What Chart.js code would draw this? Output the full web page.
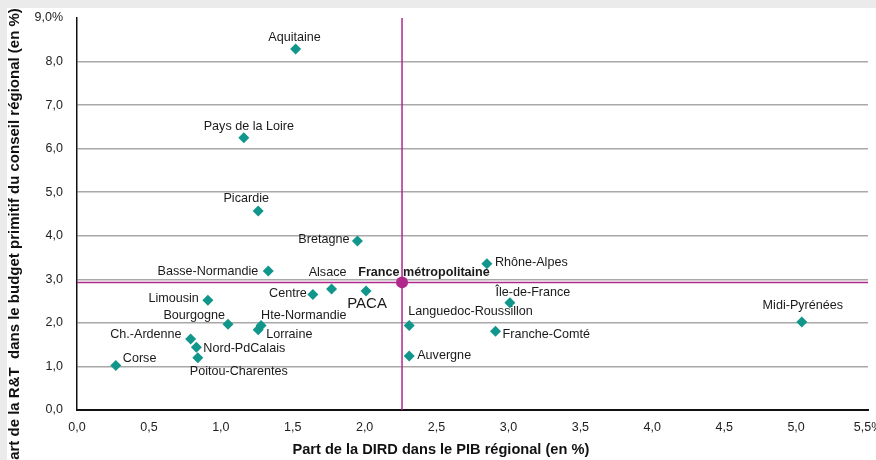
<!DOCTYPE html>
<html>
<head>
<meta charset="utf-8">
<script src="https://cdn.jsdelivr.net/npm/chart.js@4/dist/chart.umd.min.js"></script>
<style>
  html, body { margin: 0; padding: 0; background: #fff; }
  #wrap { position: relative; width: 876px; height: 460px; overflow: hidden; }
  .band-top { position: absolute; left: 0; top: 0; width: 876px; height: 8px; background: #ebebeb; }
  .band-left { position: absolute; left: 0; top: 0; width: 7px; height: 460px; background: #ebebeb; }
  canvas { position: absolute; left: 0; top: 0; }
</style>
</head>
<body>
<div id="wrap">
  <div class="band-top"></div>
  <div class="band-left"></div>
  <canvas id="chart" width="876" height="460"></canvas>
</div>
<script>
// data
const regions = ['Aquitaine', 'Pays de la Loire', 'Picardie', 'Bretagne', 'Basse-Normandie',
  'Rhône-Alpes', 'Alsace', 'Centre', 'PACA', 'Île-de-France', 'Limousin', 'Bourgogne',
  'Hte-Normandie', 'Lorraine', 'Languedoc-Roussillon', 'Franche-Comté', 'Midi-Pyrénées',
  'Ch.-Ardenne', 'Nord-PdCalais', 'Poitou-Charentes', 'Auvergne', 'Corse'];
const dirdPib = [1.52, 1.16, 1.26, 1.95, 1.33,
  2.85, 1.77, 1.64, 2.01, 3.01, 0.91, 1.05,
  1.28, 1.26, 2.31, 2.91, 5.04,
  0.79, 0.83, 0.84, 2.31, 0.27];
const rtBudget = [8.29, 6.25, 4.57, 3.88, 3.19,
  3.36, 2.78, 2.65, 2.73, 2.46, 2.52, 1.97,
  1.94, 1.84, 1.94, 1.81, 2.02,
  1.63, 1.44, 1.20, 1.24, 1.02];
const franceLabel = 'France métropolitaine';
const franceDird = 2.26;
const franceRt = 2.93;

const xTickLabels = ['0,0', '0,5', '1,0', '1,5', '2,0', '2,5', '3,0', '3,5', '4,0', '4,5', '5,0', '5,5%'];
const yTickLabels = ['0,0', '1,0', '2,0', '3,0', '4,0', '5,0', '6,0', '7,0', '8,0', '9,0%'];

// where each label sits next to its point: [textAlign, dx, dy]
const labelPlacement = {
  'Aquitaine': ['center', -1, -11],
  'Pays de la Loire': ['center', 5, -11],
  'Picardie': ['center', -12, -12],
  'Bretagne': ['right', -8, -1],
  'Basse-Normandie': ['right', -10, 0],
  'Rhône-Alpes': ['left', 8, -1],
  'Alsace': ['center', -4, -16],
  'Centre': ['right', -6, -1],
  'PACA': ['center', 1, 13],
  'Île-de-France': ['center', 23, -10],
  'Limousin': ['right', -9, -2],
  'Bourgogne': ['right', -3, -9],
  'Hte-Normandie': ['left', 0, -10],
  'Lorraine': ['left', 8, 5],
  'Languedoc-Roussillon': ['left', -1, -14],
  'Franche-Comté': ['left', 7, 3],
  'Midi-Pyrénées': ['center', 1, -17],
  'Ch.-Ardenne': ['right', -9, -4],
  'Nord-PdCalais': ['left', 7, 1],
  'Poitou-Charentes': ['left', -8, 14],
  'Auvergne': ['left', 8, 0],
  'Corse': ['left', 7, -7],
  'France métropolitaine': ['center', 22, -10]
};

const teal = '#11968b';
const magenta = '#b0288c';
const FONT = '"Liberation Sans", Arial, sans-serif';

Chart.defaults.font.family = FONT;
Chart.defaults.color = '#222';

const pointLabels = {
  id: 'pointLabels',
  afterDatasetsDraw(chart) {
    const ctx = chart.ctx;
    ctx.save();
    ctx.textBaseline = 'middle';
    ctx.fillStyle = '#1a1a1a';
    chart.data.datasets.forEach((ds, di) => {
      if (!ds.names) return;
      chart.getDatasetMeta(di).data.forEach((pt, i) => {
        const name = ds.names[i];
        const p = labelPlacement[name];
        if (name === 'PACA') ctx.font = '15px ' + FONT;
        else if (name === franceLabel) ctx.font = 'bold 12.6px ' + FONT;
        else ctx.font = '12.6px ' + FONT;
        ctx.textAlign = p[0];
        ctx.fillText(name, pt.x + p[1], pt.y + p[2]);
      });
    });
    ctx.restore();
  }
};

const axisTitles = {
  id: 'axisTitles',
  afterDraw(chart) {
    const ctx = chart.ctx;
    const a = chart.chartArea;
    ctx.save();
    ctx.fillStyle = '#111';
    ctx.font = 'bold 14.6px ' + FONT;
    ctx.textAlign = 'center';
    ctx.textBaseline = 'middle';
    ctx.fillText('Part de la DIRD dans le PIB régional (en %)', a.left + (a.right - a.left) * 0.46, chart.height - 10);
    ctx.font = 'bold 15px ' + FONT;
    ctx.translate(15, (a.top + chart.height) / 2);
    ctx.rotate(-Math.PI / 2);
    ctx.fillText('Part de la R&T  dans le budget primitif du conseil régional (en %)', 0, 0);
    ctx.restore();
  }
};

new Chart(document.getElementById('chart'), {
  type: 'scatter',
  data: {
    datasets: [
      {
        data: [{x: franceDird, y: 0}, {x: franceDird, y: 9}],
        showLine: true, borderColor: magenta, borderWidth: 1.5,
        pointRadius: 0, order: 3
      },
      {
        data: [{x: 0, y: franceRt}, {x: 5.5, y: franceRt}],
        showLine: true, borderColor: magenta, borderWidth: 1.5,
        pointRadius: 0, order: 3
      },
      {
        names: regions,
        data: regions.map((r, i) => ({x: dirdPib[i], y: rtBudget[i]})),
        pointStyle: 'rectRot', pointRadius: 5.5,
        backgroundColor: teal, borderColor: teal, borderWidth: 0,
        order: 2
      },
      {
        names: [franceLabel],
        data: [{x: franceDird, y: franceRt}],
        pointStyle: 'circle', pointRadius: 6,
        backgroundColor: magenta, borderColor: magenta, borderWidth: 0,
        order: 1
      }
    ]
  },
  options: {
    responsive: false,
    animation: false,
    layout: { padding: { left: 0, right: 8, top: 18, bottom: 0 } },
    plugins: { legend: { display: false }, tooltip: { enabled: false } },
    scales: {
      x: {
        type: 'linear', min: 0, max: 5.5,
        grid: { display: false, drawTicks: false },
        border: { display: true, color: '#111', width: 2 },
        ticks: {
          stepSize: 0.5, autoSkip: false, maxRotation: 0, padding: 10,
          font: { size: 12.5 }, color: '#222',
          callback: (v, i) => xTickLabels[i]
        },
        afterFit(scale) { scale.height = 50; scale.paddingLeft = 0; scale.paddingRight = 0; }
      },
      y: {
        type: 'linear', min: 0, max: 9,
        grid: {
          drawTicks: false, lineWidth: 1.5,
          color: c => (c.tick && c.tick.value === 9) ? 'rgba(0,0,0,0)' : '#a8a8a8'
        },
        border: { display: true, color: '#111', width: 1.5 },
        ticks: {
          stepSize: 1, autoSkip: false, padding: 14,
          font: { size: 12.5 }, color: '#222',
          callback: (v, i) => yTickLabels[i]
        },
        afterFit(scale) { scale.width = 77; scale.paddingTop = 0; scale.paddingBottom = 0; }
      }
    }
  },
  plugins: [pointLabels, axisTitles]
});
</script>
</body>
</html>
